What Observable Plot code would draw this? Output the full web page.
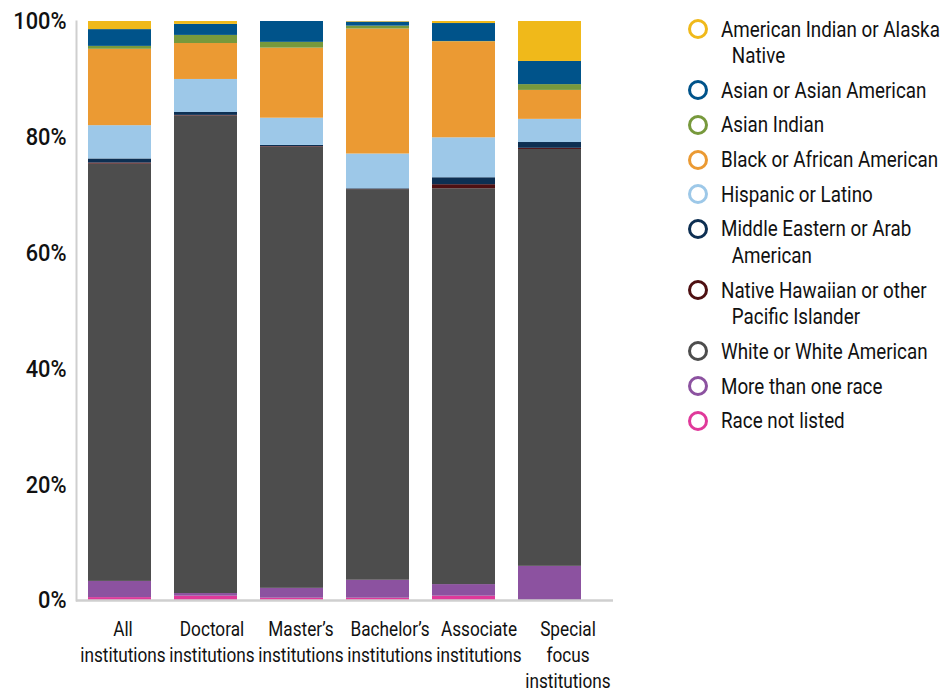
<!DOCTYPE html>
<html>
<head>
<meta charset="utf-8">
<script src="https://cdn.jsdelivr.net/npm/d3@7"></script>
<script src="https://cdn.jsdelivr.net/npm/@observablehq/plot@0.6"></script>
<style>
  html, body { margin: 0; padding: 0; background: #fff; }
  #wrap { position: relative; width: 943px; height: 690px; overflow: hidden;
    font-family: Roboto, "Noto Sans", sans-serif; }
  #wrap > svg { position: absolute; left: 0; top: 0; }
  #legend { position: absolute; left: 686px; top: 15.5px; color: #111; font-size: 22.5px; }
  .item { position: relative; line-height: 26.5px; margin-bottom: 8.2px; padding-left: 35px; white-space: nowrap; }
  .item .sw { position: absolute; left: 2px; top: 3.5px; width: 14px; height: 14px; border-radius: 50%; border: 3.5px solid; box-sizing: content-box; }
  .item .t { display: block; transform: scaleX(0.835); transform-origin: 0 50%; }
  .item .l2 { padding-left: 13px; }
</style>
</head>
<body>
<div id="wrap"></div>
<script>
// Institution types (x categories) and their tick labels
const institutions = ["All institutions", "Doctoral institutions", "Master's institutions", "Bachelor's institutions", "Associate institutions", "Special focus institutions"];
const instLabels = ["All\ninstitutions", "Doctoral\ninstitutions", "Master’s\ninstitutions", "Bachelor’s\ninstitutions", "Associate\ninstitutions", "Special\nfocus\ninstitutions"];

// Race categories, stacked bottom to top
const races = ["Race not listed", "More than one race", "White or White American", "Native Hawaiian or other Pacific Islander", "Middle Eastern or Arab American", "Hispanic or Latino", "Black or African American", "Asian Indian", "Asian or Asian American", "American Indian or Alaska Native"];
const raceColors = ["#e0399a", "#8c52a0", "#4d4d4d", "#4e1012", "#0d2f52", "#9dc8e8", "#eb9a33", "#77993c", "#00538a", "#f0b91a"];

// Series values (percent), one array per institution type, in race order above
const allInst       = [0.5, 2.8, 72.1, 0.2, 0.7, 5.75, 13.2, 0.5, 2.9, 1.4];
const doctoral      = [0.75, 0.45, 82.4, 0.1, 0.5, 5.7, 6.2, 1.4, 1.9, 0.5];
const masters       = [0.4, 1.7, 76.2, 0.1, 0.2, 4.7, 12.1, 1.0, 3.6, 0.0];
const bachelors     = [0.4, 3.1, 67.5, 0.05, 0.1, 6.0, 21.6, 0.5, 0.7, 0.1];
const associate     = [0.75, 2.0, 68.4, 0.7, 1.2, 6.9, 16.6, 0.05, 3.1, 0.35];
const specialFocus  = [0.0, 5.9, 72.0, 0.2, 1.0, 4.0, 5.0, 1.0, 4.0, 6.9];

// Legend order and display lines
const legendOrder = ["American Indian or Alaska Native", "Asian or Asian American", "Asian Indian", "Black or African American", "Hispanic or Latino", "Middle Eastern or Arab American", "Native Hawaiian or other Pacific Islander", "White or White American", "More than one race", "Race not listed"];
const legendLines = [["American Indian or Alaska", "Native"], ["Asian or Asian American"], ["Asian Indian"], ["Black or African American"], ["Hispanic or Latino"], ["Middle Eastern or Arab", "American"], ["Native Hawaiian or other", "Pacific Islander"], ["White or White American"], ["More than one race"], ["Race not listed"]];

const yTicks = [0, 0.2, 0.4, 0.6, 0.8, 1];

const series = [allInst, doctoral, masters, bachelors, associate, specialFocus];
const data = [];
institutions.forEach((inst, i) => {
  races.forEach((race, j) => data.push({inst, race, value: series[i][j]}));
});

const frameOpts = {
  width: 943, height: 690,
  marginLeft: 76, marginRight: 330, marginTop: 21, marginBottom: 90,
  style: {fontFamily: "Roboto, 'Noto Sans', sans-serif", background: "transparent", color: "#111"}
};

// Bars, baseline, left line and y axis
const chart = Plot.plot({
  ...frameOpts,
  x: {type: "band", domain: institutions, paddingInner: 0.272, paddingOuter: 0.24, align: 0.28, label: null, axis: null},
  y: {domain: [0, 1], label: null},
  color: {domain: races, range: raceColors},
  marks: [
    Plot.barY(data, Plot.stackY({offset: "normalize", x: "inst", y: "value", fill: "race", inset: 0})),
    Plot.ruleY([0], {stroke: "#cfcfcf", strokeWidth: 2.5}),
    Plot.frame({anchor: "left", stroke: "#cfcfcf", strokeWidth: 2}),
    Plot.axisY(yTicks, {tickSize: 0, tickPadding: 10, tickFormat: d => Math.round(d * 100) + "%", fontSize: 24.5, fontWeight: 500, fill: "#111", label: null})
  ]
});

// Category labels: centred on equal divisions of the axis, as in the reference
const axisChart = Plot.plot({
  ...frameOpts,
  x: {type: "band", domain: institutions, paddingInner: 0, paddingOuter: 0, label: null},
  y: {domain: [0, 1], axis: null},
  marks: [
    Plot.axisX({tickSize: 0, tickPadding: 17, tickFormat: d => instLabels[institutions.indexOf(d)], fontSize: 21, lineHeight: 1.238, fill: "#111", label: null})
  ]
});

// Narrow the axis label glyphs to mimic the condensed typeface
function condense(svg, sel, sx) {
  d3.select(svg).selectAll(sel).each(function() {
    const t = this.getAttribute("transform");
    if (t) {
      this.setAttribute("transform", t + ` scale(${sx},1)`);
    } else {
      const x = +this.getAttribute("x") || 0, y = +this.getAttribute("y") || 0;
      this.removeAttribute("x"); this.removeAttribute("y");
      this.setAttribute("transform", `translate(${x},${y}) scale(${sx},1)`);
    }
  });
}
condense(chart, 'g[aria-label="y-axis tick label"] text', 0.89);
condense(axisChart, 'g[aria-label="x-axis tick label"] text', 0.82);

const wrap = document.getElementById("wrap");
wrap.appendChild(chart);
wrap.appendChild(axisChart);

const legend = document.createElement("div");
legend.id = "legend";
legendOrder.forEach((race, k) => {
  const item = document.createElement("div");
  item.className = "item";
  const sw = document.createElement("span");
  sw.className = "sw";
  sw.style.borderColor = raceColors[races.indexOf(race)];
  item.appendChild(sw);
  legendLines[k].forEach((line, n) => {
    const t = document.createElement("span");
    t.className = n ? "t l2" : "t";
    t.textContent = line;
    item.appendChild(t);
  });
  legend.appendChild(item);
});
wrap.appendChild(legend);
</script>
</body>
</html>
